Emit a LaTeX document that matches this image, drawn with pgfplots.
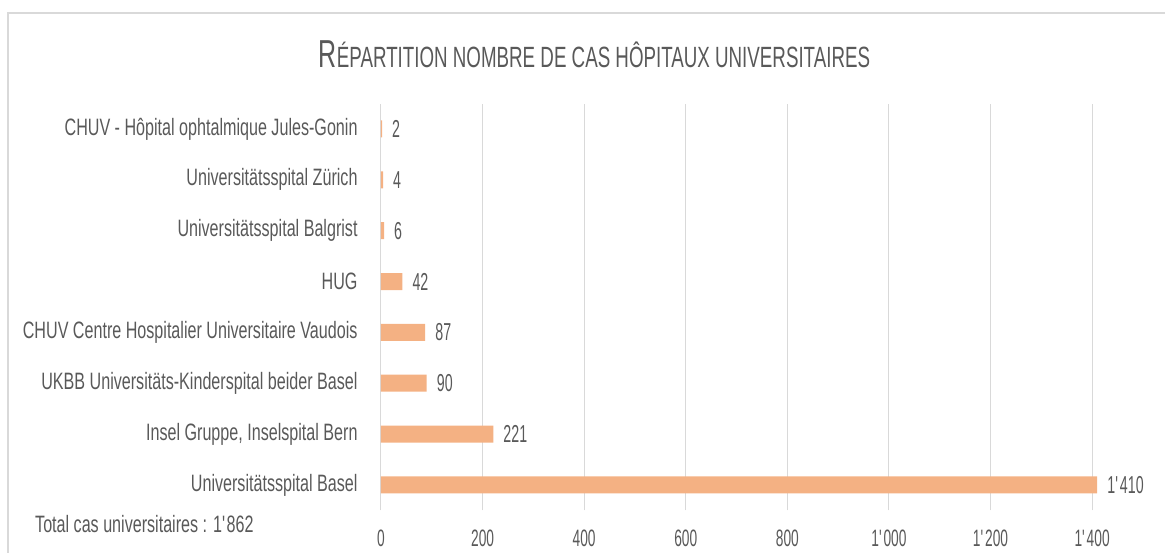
\documentclass[border=0pt]{standalone}
\usepackage{pgfplots}
\pgfplotsset{compat=1.18}
\usepackage{fontspec}
\setmainfont{Liberation Sans}
\newfontfamily\labfont[FakeStretch=0.68]{Liberation Sans}
\newfontfamily\numfont[FakeStretch=0.58]{Liberation Sans}
\newfontfamily\titfont[FakeStretch=0.64]{Liberation Sans}
\definecolor{barc}{HTML}{F4B183}
\definecolor{txt}{HTML}{595959}
\definecolor{grd}{HTML}{D9D9D9}
\begin{document}
\begin{tikzpicture}
\useasboundingbox (0pt,0pt) rectangle (1165pt,-553pt);
% cadre
\draw[grd, line width=2pt] (8pt,-700pt) -- (8pt,-13pt) -- (1300pt,-13pt);
% titre
\node[anchor=base, txt, inner sep=0pt] at (594.5pt,-68pt)
  {\titfont\fontsize{39}{39}\selectfont R\fontsize{29.3}{29.3}\selectfont ÉPARTITION NOMBRE DE CAS HÔPITAUX UNIVERSITAIRES};
\begin{axis}[
  at={(381pt,-510.4pt)}, anchor=south west,
  scale only axis,
  width=711.1pt, height=406.9pt,
  xmin=0, xmax=1400, ymin=-0.5, ymax=7.5,
  clip=false,
  xbar, bar width=17pt,
  axis line style={draw=none},
  tick style={draw=none},
  xtick={0,200,...,1400},
  xmajorgrids, major grid style={grd, line width=1pt},
  ytick={0,...,7},
  yticklabels={Universitätsspital Basel, {Insel Gruppe, Inselspital Bern}, UKBB Universitäts-Kinderspital beider Basel, CHUV Centre Hospitalier Universitaire Vaudois, HUG, Universitätsspital Balgrist, Universitätsspital Zürich, CHUV - Hôpital ophtalmique Jules-Gonin},
  /pgf/number format/assume math mode=true,
  /pgf/number format/1000 sep={\textquotesingle},
  xticklabel style={anchor=north, inner sep=0pt, yshift=-19.6pt, txt, font=\numfont\fontsize{23.7}{24}\selectfont},
  yticklabel style={anchor=east, inner sep=0pt, xshift=-19pt, txt, font=\labfont\fontsize{23.7}{24}\selectfont},
  point meta=x,
  nodes near coords,
  nodes near coords style={anchor=west, inner sep=0pt, xshift=10pt, txt, font=\numfont\fontsize{24.5}{25}\selectfont},
]
\addplot[draw=none, fill=barc] coordinates {
(1410,0) (221,1) (90,2) (87,3) (42,4) (6,5) (4,6) (2,7)
};
\end{axis}
\node[anchor=base west, txt, inner sep=0pt] at (35pt,-532pt)
  {\labfont\fontsize{23.7}{24}\selectfont Total cas universitaires : 1\textquotesingle 862};
\end{tikzpicture}
\end{document}
